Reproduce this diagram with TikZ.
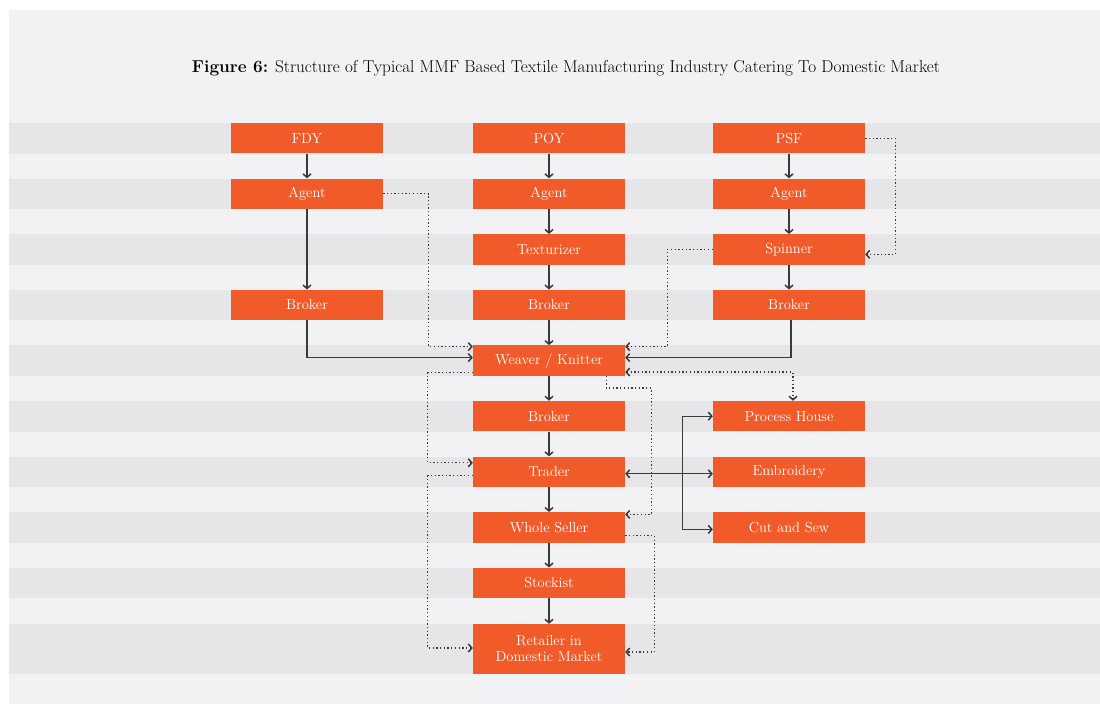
\documentclass[tikz,border=0pt]{standalone}
\usepackage{tikz}
\usetikzlibrary{calc,arrows.meta}
\definecolor{boxorange}{HTML}{F15A29}
\definecolor{bandlight}{HTML}{F2F2F4}
\definecolor{banddark}{HTML}{E6E6E8}
\definecolor{linegray}{HTML}{3A3A3A}
\tikzset{
  barb/.tip={Straight Barb[length=3.5pt,width=8pt,line width=1.5pt]},
  unit/.style={rectangle,fill=boxorange,text=white,minimum width=152pt,minimum height=30.5pt,
    inner sep=0pt,align=center,font=\fontsize{14.5}{16}\selectfont},
  flow/.style={draw=linegray,line width=1.3pt,-barb},
  both/.style={barb-barb},
  dotflow/.style={flow,dash pattern=on 1.3pt off 2.4pt}
}

\begin{document}
\begin{tikzpicture}[x=1pt,y=-1pt]
                \useasboundingbox (0,0) rectangle (1100,704);
                \fill[white] (0,0) rectangle (1100,704);
                \fill[bandlight] (9,10) rectangle (1100,704);
                \foreach \t in {0,...,8}
                    \fill[banddark] (9,{123+55.6*\t}) rectangle (1100,{153.5+55.6*\t});
                \fill[banddark] (9,624) rectangle (1100,674);
                \node[font=\fontsize{17.2}{20}\selectfont] (title) at (566,68)
                    {\textbf{Figure 6:} Structure of Typical MMF Based Textile Manufacturing Industry Catering To Domestic Market};
                % yarn columns
                \node[unit] (fdy) at (307,138.2) {FDY};
                \node[unit] (poy) at (549,138.2) {POY};
                \node[unit] (psf) at (789,138.2) {PSF};
                \node[unit] (agentA) at (307,193.8) {Agent};
                \node[unit] (agentB) at (549,193.8) {Agent};
                \node[unit] (agentC) at (789,193.8) {Agent};
                \node[unit] (textur) at (549,249.4) {Texturizer};
                \node[unit] (spinner) at (789,249.4) {Spinner};
                \node[unit] (brokerA) at (307,305) {Broker};
                \node[unit] (brokerB) at (549,305) {Broker};
                \node[unit] (brokerC) at (789,305) {Broker};
                % main chain
                \node[unit] (weaver) at (549,360.6) {Weaver / Knitter};
                \node[unit] (brokerD) at (549,416.2) {Broker};
                \node[unit] (trader) at (549,471.8) {Trader};
                \node[unit] (wholesale) at (549,527.4) {Whole Seller};
                \node[unit] (stockist) at (549,583) {Stockist};
                \node[unit,minimum height=50pt] (retailer) at (549,649) {Retailer in\\Domestic Market};
                \node[unit] (process) at (789,416.2) {Process House};
                \node[unit] (embroid) at (789,471.8) {Embroidery};
                \node[unit] (cutsew) at (789,527.4) {Cut and Sew};
                % solid links
                \draw[flow] (fdy) -- (agentA);
                \draw[flow] (agentA) -- (brokerA);
                \draw[flow] (poy) -- (agentB);
                \draw[flow] (agentB) -- (textur);
                \draw[flow] (textur) -- (brokerB);
                \draw[flow] (brokerB) -- (weaver);
                \draw[flow] (psf) -- (agentC);
                \draw[flow] (agentC) -- (spinner);
                \draw[flow] (spinner) -- (brokerC);
                \draw[flow] (brokerA.south) |- ($(weaver.west)+(0,-3)$);
                \draw[flow] ($(brokerC.south)+(2,0)$) |- ($(weaver.east)+(0,-3)$);
                \draw[flow] (weaver) -- (brokerD);
                \draw[flow] (brokerD) -- (trader);
                \draw[flow] (trader) -- (wholesale);
                \draw[flow] (wholesale) -- (stockist);
                \draw[flow] (stockist) -- (retailer);
                \coordinate (bus) at ($(embroid.west)+(-30,0)$);
                \draw[flow,both] ($(trader.east)+(0,2)$) -- ($(embroid.west)+(0,2)$);
                \draw[flow] ($(bus |- cutsew.west)+(0,2)$) |- (process.west);
                \draw[flow] (bus) |- ($(cutsew.west)+(0,2)$);
                % dotted links
                \draw[dotflow] (agentA.east) -| ($(weaver.north west)+(-44,1.5)$) -- ($(weaver.north west)+(0,1.5)$);
                \draw[dotflow] (spinner.west) -| ($(weaver.north east)+(42,1.5)$) -- ($(weaver.north east)+(0,1.5)$);
                \draw[dotflow] (psf.east) -| ($(spinner.east)+(30,5)$) -- ($(spinner.east)+(0,5)$);
                \draw[dotflow,both] ($(weaver.south east)+(0,-4)$) -| ($(process.north)+(4,0)$);
                \draw[dotflow] ($(weaver.south east)+(-19,0)$) -- ++(0,12) -| ($(wholesale.east)+(26,-13)$) -- ($(wholesale.east)+(0,-13)$);
                \draw[dotflow] ($(weaver.west)+(0,12)$) -| ($(trader.west)+(-45,-9)$) -- ($(trader.west)+(0,-9)$);
                \draw[dotflow] ($(trader.west)+(0,4)$) -| ($(retailer.west)+(-45,-1)$) -- ($(retailer.west)+(0,-1)$);
                \draw[dotflow] ($(wholesale.east)+(0,8)$) -| ($(retailer.east)+(29,3)$) -- ($(retailer.east)+(0,3)$);
            \end{tikzpicture}
\end{document}
